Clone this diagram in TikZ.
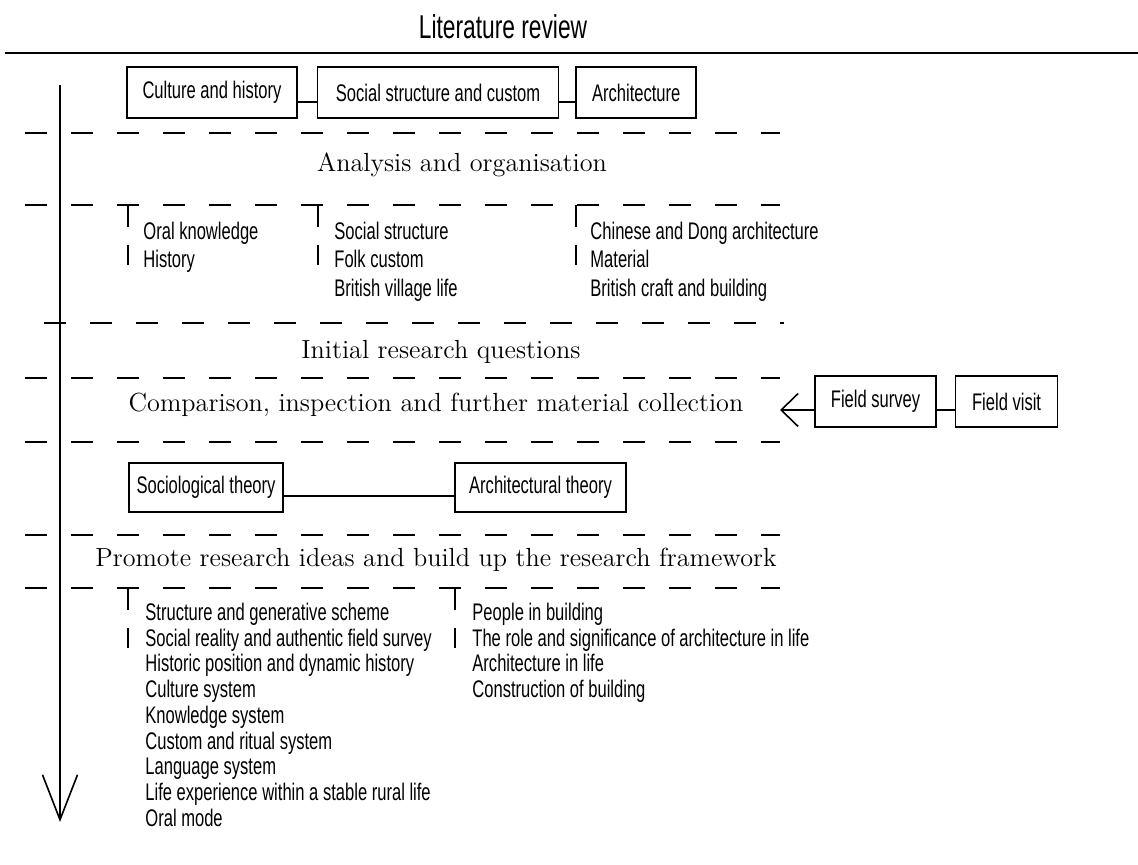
\documentclass[tikz,border=0pt]{standalone}
\usepackage{fontspec}
\newfontfamily\condfont[FakeStretch=0.69]{Liberation Sans}
\usetikzlibrary{matrix,positioning,arrows.meta}
\pgfkeys{tikz/mybox/.style={draw,line width=0.8pt,inner sep=0pt,minimum height=25.5pt,font=\condfont\fontsize{12pt}{14pt}\selectfont}}
\pgfkeys{tikz/myjoin/.style={line width=0.8pt}}
\pgfkeys{tikz/mysep/.style={line width=1.1pt,dash pattern=on 11pt off 12pt}}
\pgfkeys{tikz/mytick/.style={line width=1.1pt,dash pattern=on 11pt off 9pt}}
\pgfkeys{tikz/myhead/.style={font=\fontsize{13.1pt}{15pt}\selectfont}}
\pgfkeys{tikz/mylist/.style={matrix of nodes,anchor=north west,inner sep=0pt,row sep=#1,nodes={anchor=west,inner sep=0pt,text height=8.5pt,text depth=2.5pt,font=\condfont\fontsize{12pt}{14pt}\selectfont}}}
\newcommand*\mysepline[2][25]{\draw[mysep] (#1,#2) -- (780,#2);}
\newcommand*\mytickline[2]{\draw[mytick] (#1,#2) -- ++(0,60);}

\begin{document}
\begin{tikzpicture}[x=0.5pt,y=-0.5pt]
    \useasboundingbox (0,0) rectangle (1138,865);
    \node[font=\condfont\fontsize{16.5pt}{18pt}\selectfont] (lit) at (503,27) {Literature review};
    \draw[line width=1pt] (5,53) -- (1138,53);
    \coordinate (flowtop) at (60,85);
    \coordinate (flowend) at (60,822);
    \draw[line width=0.8pt,-{Straight Barb[length=22.5pt,width=17.5pt]}] (flowtop) -- (flowend);

    \node[mybox,minimum width=85pt] (culture) at (212,92.5) {Culture and history};
    \node[mybox,minimum width=120.5pt,right=9.5pt of culture] (social) {Social structure and custom};
    \node[mybox,minimum width=60pt,right=8pt of social] (arch) {Architecture};
    \draw[myjoin] ([yshift=-4.75pt]culture.east) -- ([yshift=-4.75pt]social.west);
    \draw[myjoin] ([yshift=-4.75pt]social.east) -- ([yshift=-4.75pt]arch.west);

    \mysepline{133}
    \node[myhead] (analysis) at (462,165) {Analysis and organisation};
    \mysepline{205}
    \mytickline{128}{205}
    \mytickline{318}{205}
    \mytickline{576}{205}
    \matrix[mylist=3.25pt] (lhist) at (143,222) {
        Oral knowledge \\
        History \\
    };
    \matrix[mylist=3.25pt] (lsoc) at (334,222) {
        Social structure \\
        Folk custom \\
        British village life \\
    };
    \matrix[mylist=3.25pt] (larch) at (590,222) {
        Chinese and Dong architecture \\
        Material \\
        British craft and building \\
    };

    \draw[mysep] (44,323) -- (784,323);
    \node[myhead] (initial) at (441,352) {Initial research questions};
    \mysepline{378}
    \node[myhead] (compare) at (436,405) {Comparison, inspection and further material collection};
    \node[mybox,minimum width=60.5pt] (fsurvey) at (875.5,401.5) {Field survey};
    \node[mybox,minimum width=51pt,right=9pt of fsurvey] (fvisit) {Field visit};
    \coordinate (comparetip) at (780,410);
    \draw[myjoin] ([yshift=-4.25pt]fsurvey.east) -- ([yshift=-4.25pt]fvisit.west);
    \draw[myjoin,-{Straight Barb[length=8.5pt,width=16.5pt]}] ([yshift=-4.25pt]fsurvey.west) -- (comparetip);
    \mysepline{442}

    \node[mybox,minimum width=77pt,minimum height=24.5pt] (socio) at (206,487.5) {Sociological theory};
    \node[mybox,minimum width=85.5pt,minimum height=24.5pt] (archth) at (540.5,487.5) {Architectural theory};
    \draw[myjoin] ([yshift=-4.25pt]socio.east) -- ([yshift=-4.25pt]archth.west);
    \mysepline{535}
    \node[myhead] (promote) at (436,560) {Promote research ideas and build up the research framework};
    \mysepline{588}
    \mytickline{128}{588}
    \mytickline{455}{588}
    \matrix[mylist=1.875pt] (lframe) at (145,603) {
        Structure and generative scheme \\
        Social reality and authentic field survey \\
        Historic position and dynamic history \\
        Culture system \\
        Knowledge system \\
        Custom and ritual system \\
        Language system \\
        Life experience within a stable rural life \\
        Oral mode \\
    };
    \matrix[mylist=1.875pt] (lbuild) at (472,603) {
        People in building \\
        The role and significance of architecture in life \\
        Architecture in life \\
        Construction of building \\
    };
\end{tikzpicture}
\end{document}
